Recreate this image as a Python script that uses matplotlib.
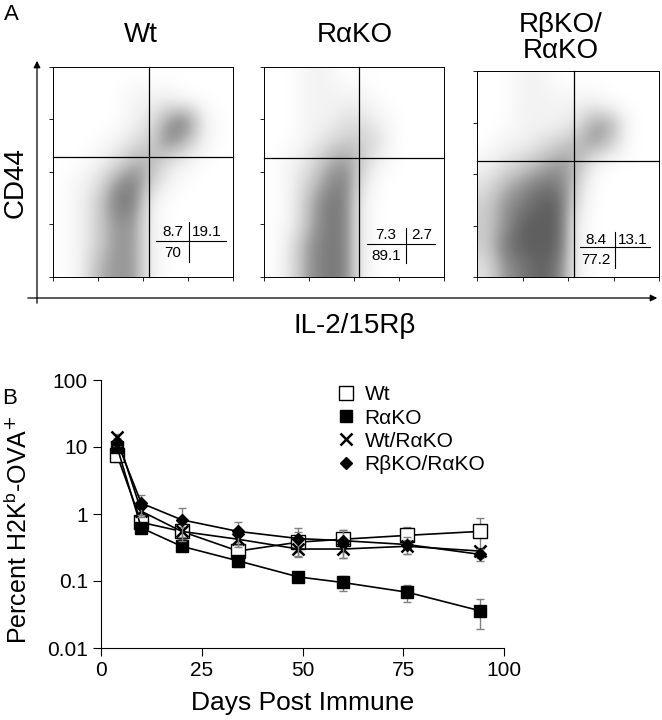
import numpy as np
import matplotlib
matplotlib.use("Agg")
import matplotlib.pyplot as plt

W, H = 662, 720

# ---- panel A: approximate dot-plot densities (rows top->bottom)
wt_density = [
    [0, 0, 0, 0, 0, 0, 0, 0, 0, 0],
    [0, 0, 0, 0, 1, 1, 1, 0, 0, 0],
    [0, 0, 0, 0, 1, 2, 5, 6, 1, 0],
    [0, 0, 0, 1, 2, 3, 6, 4, 1, 0],
    [0, 0, 1, 2, 4, 4, 2, 1, 0, 0],
    [0, 1, 2, 5, 6, 3, 1, 0, 0, 0],
    [0, 1, 3, 6, 6, 1, 0, 0, 0, 0],
    [0, 1, 3, 5, 5, 1, 0, 0, 0, 0],
    [0, 1, 3, 5, 5, 1, 0, 0, 0, 0],
    [0, 1, 4, 5, 5, 1, 0, 0, 0, 0],
]
rako_density = [
    [0, 0, 1, 1, 0, 0, 0, 0, 0, 0],
    [0, 0, 1, 1, 1, 1, 0, 0, 0, 0],
    [0, 0, 1, 1, 2, 2, 1, 0, 0, 0],
    [0, 0, 1, 2, 3, 3, 2, 0, 0, 0],
    [0, 1, 2, 4, 5, 3, 1, 0, 0, 0],
    [0, 1, 3, 5, 6, 2, 0, 0, 0, 0],
    [0, 1, 4, 6, 6, 1, 0, 0, 0, 0],
    [0, 1, 4, 6, 6, 1, 0, 0, 0, 0],
    [0, 2, 5, 6, 6, 1, 0, 0, 0, 0],
    [0, 2, 5, 6, 6, 1, 0, 0, 0, 0],
]
rbko_density = [
    [0, 0, 1, 1, 0, 0, 0, 0, 0, 0],
    [0, 0, 1, 1, 1, 1, 1, 0, 0, 0],
    [0, 0, 1, 1, 1, 2, 5, 4, 0, 0],
    [0, 1, 1, 2, 3, 4, 5, 3, 0, 0],
    [1, 2, 3, 4, 5, 4, 1, 0, 0, 0],
    [2, 4, 5, 6, 6, 3, 0, 0, 0, 0],
    [3, 5, 6, 7, 7, 2, 0, 0, 0, 0],
    [3, 5, 7, 7, 7, 1, 0, 0, 0, 0],
    [3, 6, 7, 7, 7, 1, 0, 0, 0, 0],
    [2, 5, 6, 7, 6, 1, 0, 0, 0, 0],
]
panel_titles = ["Wt", "R\u03b1KO", "R\u03b2KO/\nR\u03b1KO"]
quad_pcts = [("8.7", "19.1", "70"), ("7.3", "2.7", "89.1"), ("8.4", "13.1", "77.2")]

# ---- panel B data
days = [4, 10, 20, 34, 49, 60, 76, 94]
wt = [7.5, 0.75, 0.55, 0.28, 0.38, 0.42, 0.48, 0.55]
wt_err = [1.5, 0.15, 0.12, 0.08, 0.15, 0.15, 0.17, 0.33]
rako = [10, 0.62, 0.33, 0.20, 0.115, 0.095, 0.068, 0.036]
rako_err = [1.5, 0.08, 0.05, 0.04, 0.01, 0.025, 0.02, 0.017]
wtrako = [14, 1.1, 0.55, 0.42, 0.30, 0.30, 0.33, 0.28]
wtrako_err = [1.5, 0.2, 0.1, 0.1, 0.03, 0.08, 0.08, 0.03]
rbrako = [12, 1.45, 0.82, 0.55, 0.43, 0.40, 0.35, 0.25]
rbrako_err = [1.5, 0.5, 0.42, 0.2, 0.19, 0.18, 0.1, 0.05]


def rect(x0, y0, x1, y1):
    return [x0 / W, 1 - y1 / H, (x1 - x0) / W, (y1 - y0) / H]


fig = plt.figure(figsize=(W / 100, H / 100), dpi=100)
font = "Liberation Sans"

# overlay in pixel coordinates
ov = fig.add_axes([0, 0, 1, 1], zorder=5)
ov.set_xlim(0, W)
ov.set_ylim(H, 0)
ov.axis("off")
ov.patch.set_alpha(0)

boxes = [(53, 67, 233, 277, 149, 157), (264, 67, 444, 277, 359, 158),
         (477, 71, 659, 277, 574, 161)]
densities = [wt_density, rako_density, rbko_density]
tables = [(173, 207, 232, 156, 226, 241, 189, 222, 262, 253),
          (386, 422, 235, 367, 435, 244, 406, 228, 263, 256),
          (596, 633, 240, 580, 650, 247, 615, 232, 268, 260)]
title_pos = [(141, 35), (355, 35), (561, 38)]

for box, dens, title, tp, pcts, tb in zip(boxes, densities, panel_titles,
                                            title_pos, quad_pcts, tables):
    x0, y0, x1, y1, qx, qy = box
    ax = fig.add_axes(rect(x0, y0, x1, y1))
    ax.imshow(np.array(dens, dtype=float), cmap="Greys", vmin=0, vmax=10,
              interpolation="bicubic", extent=[0, 1, 0, 1], aspect="auto")
    ax.set_xlim(0, 1)
    ax.set_ylim(0, 1)
    ax.set_xticks(np.linspace(0, 1, 5))
    ax.set_yticks(np.linspace(0, 1, 5))
    ax.tick_params(length=3, width=0.6, labelbottom=False, labelleft=False)
    for s in ax.spines.values():
        s.set_linewidth(0.7)
    ov.plot([qx, qx], [y0, y1], color="black", lw=0.9)
    ov.plot([x0, x1], [qy, qy], color="black", lw=0.9)
    ov.text(tp[0], tp[1], title, ha="center", va="center", fontsize=20,
            family=font, linespacing=1.05)
    ax_l, ax_r, ty, hx0, hx1, hy, vx, vy0, vy1, by = tb
    ov.text(ax_l, ty, pcts[0], ha="center", va="center", fontsize=11, family=font)
    ov.text(ax_r, ty, pcts[1], ha="center", va="center", fontsize=11, family=font)
    ov.text(ax_l, by, pcts[2], ha="center", va="center", fontsize=11, family=font)
    ov.plot([hx0, hx1], [hy, hy], color="black", lw=0.8)
    ov.plot([vx, vx], [vy0, vy1], color="black", lw=0.8)

ov.annotate("", xy=(37, 58), xytext=(37, 306),
            arrowprops=dict(arrowstyle="-|>", color="black", lw=0.9))
ov.annotate("", xy=(660, 298), xytext=(25, 298),
            arrowprops=dict(arrowstyle="-|>", color="black", lw=0.9))
ov.text(4, 14, "A", fontsize=16, family=font, va="center")
ov.text(16, 183, "CD44", rotation=90, fontsize=20, family=font,
        ha="center", va="center")
ov.text(355, 326, "IL-2/15R\u03b2", fontsize=20, family=font,
        ha="center", va="center")
ov.text(2, 398, "B", fontsize=16, family=font, va="center")

# ---- panel B
bx = fig.add_axes(rect(101, 380, 504, 648))
series = [
    (wt, wt_err, dict(marker="s", mfc="white", mec="black", ms=10), "Wt"),
    (rako, rako_err, dict(marker="s", mfc="black", mec="black", ms=9), "R\u03b1KO"),
    (wtrako, wtrako_err, dict(marker="x", mec="black", mew=1.8, ms=8), "Wt/R\u03b1KO"),
    (rbrako, rbrako_err, dict(marker="D", mfc="black", mec="black", ms=6), "R\u03b2KO/R\u03b1KO"),
]
for vals, err, style, label in series:
    bx.errorbar(days, vals, yerr=err, fmt="none", ecolor="gray", elinewidth=1,
                capsize=3)
    bx.plot(days, vals, color="black", lw=1.2, label=label, **style)
bx.set_yscale("log")
bx.set_ylim(0.01, 100)
bx.set_xlim(0, 100)
bx.set_xticks([0, 25, 50, 75, 100])
bx.set_yticks([0.01, 0.1, 1, 10, 100])
bx.set_yticklabels(["0.01", "0.1", "1", "10", "100"])
bx.minorticks_off()
bx.spines["top"].set_visible(False)
bx.spines["right"].set_visible(False)
bx.tick_params(labelsize=15, length=6)
for t in bx.get_xticklabels() + bx.get_yticklabels():
    t.set_family(font)
bx.set_xlabel("Days Post Immune", fontsize=19, family=font, labelpad=8)
bx.set_ylabel("Percent H2K$^{\\mathregular{b}}$-OVA$^{+}$", fontsize=18,
              family=font, labelpad=2)
bx.yaxis.set_label_coords(-0.17, 0.44)
leg = bx.legend(loc="upper left", bbox_to_anchor=(0.54, 1.05), frameon=False,
                handlelength=0.8, handletextpad=0.5, labelspacing=0.2,
                prop=dict(family=font, size=15))
for h in leg.legend_handles:
    h.set_linestyle("none")

fig.savefig("out.png", dpi=100)
